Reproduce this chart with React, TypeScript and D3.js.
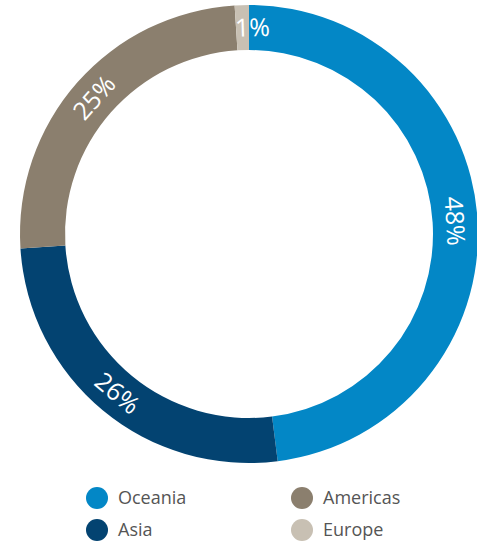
import * as d3 from "d3";

const regions = ["Oceania", "Asia", "Americas", "Europe"];
const shares = [48, 26, 25, 1];
const colors = ["#0387c6", "#034371", "#8b7f6e", "#c8c0b3"];

const width = 477;
const height = 541;
const cx = 249;
const cy = 234;
const outerR = 229;
const innerR = 184;

export default function App() {
  const pie = d3
    .pie<number>()
    .sort(null)
    .value((d) => d);
  const arcs = pie(shares);
  const arc = d3.arc<d3.PieArcDatum<number>>().innerRadius(innerR).outerRadius(outerR);

  return (
    <svg
      width={width}
      height={height}
      style={{ position: "absolute", left: 0, top: 0, fontFamily: "'Open Sans', sans-serif" }}
    >
      <g transform={`translate(${cx},${cy})`}>
        {arcs.map((a, i) => (
          <path key={regions[i]} d={arc(a) ?? ""} fill={colors[i]} />
        ))}
        {arcs.map((a, i) => {
          const [x, y] = arc.centroid(a);
          const deg = (((a.startAngle + a.endAngle) / 2) * 180) / Math.PI;
          const rot = deg <= 90 ? deg : deg < 270 ? deg - 180 : deg - 360;
          // the tiny Europe slice's label sits a little clockwise of its centroid
          const shift = i === 3 ? 10 : 0;
          return (
            <text
              key={"l" + i}
              transform={`translate(${x},${y}) rotate(${rot})`}
              x={shift}
              textAnchor="middle"
              dy="0.36em"
              fill="#fff"
              fontSize={25}
            >
              {shares[i]}%
            </text>
          );
        })}
      </g>
      {regions.map((r, i) => {
        const col = Math.floor(i / 2);
        const row = i % 2;
        const x = 97 + col * 205;
        const y = 498 + row * 32;
        return (
          <g key={"leg" + r}>
            <circle cx={x} cy={y} r={11} fill={colors[i]} />
            <text x={x + 21} y={y} dy="0.36em" fontSize={18} fill="#555">
              {r}
            </text>
          </g>
        );
      })}
    </svg>
  );
}
